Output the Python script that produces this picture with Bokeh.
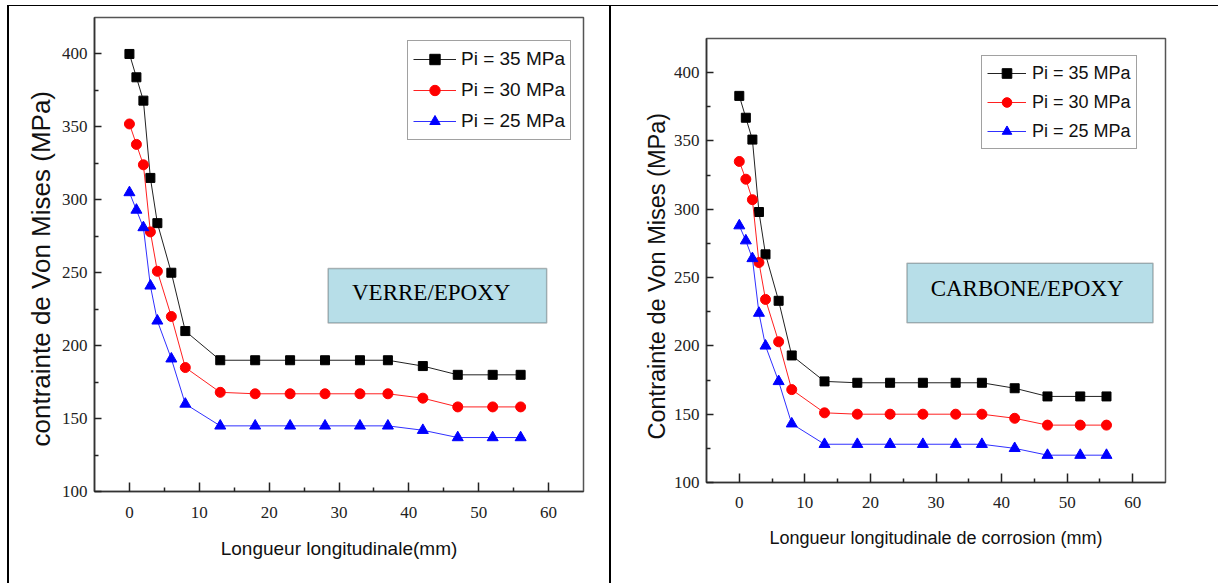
from bokeh.plotting import figure
from bokeh.layouts import row
from bokeh.models import (Range1d, Legend, LegendItem, BoxAnnotation, Label, FixedTicker, Title)
from bokeh.embed import file_html
from bokeh.resources import INLINE

# ---------------- data ----------------
length_mm = [0, 1, 2, 3, 4, 6, 8, 13, 18, 23, 28, 33, 37, 42, 47, 52, 56]

verre_pi35 = [400, 384, 368, 315, 284, 250, 210, 190, 190, 190, 190, 190, 190, 186, 180, 180, 180]
verre_pi30 = [352, 338, 324, 278, 251, 220, 185, 168, 167, 167, 167, 167, 167, 164, 158, 158, 158]
verre_pi25 = [305, 293, 281, 241, 217, 191, 160, 145, 145, 145, 145, 145, 145, 142, 137, 137, 137]

carbone_pi35 = [383, 367, 351, 298, 267, 233, 193, 174, 173, 173, 173, 173, 173, 169, 163, 163, 163]
carbone_pi30 = [335, 322, 307, 261, 234, 203, 168, 151, 150, 150, 150, 150, 150, 147, 142, 142, 142]
carbone_pi25 = [288, 277, 264, 224, 200, 174, 143, 128, 128, 128, 128, 128, 128, 125, 120, 120, 120]

series_labels = ["Pi = 35 MPa", "Pi = 30 MPa", "Pi = 25 MPa"]
x_ticks = [0, 10, 20, 30, 40, 50, 60]
x_minor = [5, 15, 25, 35, 45, 55]
y_ticks = [100, 150, 200, 250, 300, 350, 400]
y_minor = [125, 175, 225, 275, 325, 375]

TICK_FONT = "Liberation Sans Narrow"
SANS = "Liberation Sans"
SERIF = "Liberation Serif"
X0, X1, Y0, Y1 = -5, 65, 100, 425


def make_panel(values, ylab, xlab, material, size, frame, legend_cfg, box, text_pos,
               ylab_cfg, xlab_size, leg_font, tick_std_x, xlab_std, styles):
    left, right, top, bottom = frame
    w, h = size
    p = figure(width=w, height=h, output_backend="svg", toolbar_location=None,
               x_range=Range1d(X0, X1), y_range=Range1d(Y0, Y1),
               min_border_left=left, min_border_right=right,
               min_border_top=top, min_border_bottom=bottom)
    p.frame_align = False
    p.styles = styles
    p.background_fill_color = "white"
    p.border_fill_color = "white"
    p.xgrid.visible = False
    p.ygrid.visible = False
    p.outline_line_color = "#555555"
    p.outline_line_width = 1.5

    for ax in (p.xaxis[0], p.yaxis[0]):
        ax.axis_line_color = "#333333"
        ax.axis_line_width = 1.6
        ax.major_tick_line_color = "#222222"
        ax.minor_tick_line_color = "#222222"
        ax.major_tick_line_width = 1.5
        ax.minor_tick_line_width = 1.5
        ax.major_tick_out = 0
        ax.minor_tick_out = 0
        ax.major_label_text_font = TICK_FONT
        ax.major_label_text_font_size = "17px"
        ax.major_label_text_color = "#222222"
        ax.axis_label_text_font_style = "normal"
        ax.axis_label_text_color = "#111111"

    p.xaxis[0].ticker = FixedTicker(ticks=x_ticks, minor_ticks=x_minor)
    p.yaxis[0].ticker = FixedTicker(ticks=y_ticks, minor_ticks=y_minor)
    p.xaxis[0].major_tick_in = 9
    p.xaxis[0].minor_tick_in = 4
    p.yaxis[0].major_tick_in = 7
    p.yaxis[0].minor_tick_in = 4
    p.xaxis[0].major_label_standoff = tick_std_x
    p.yaxis[0].major_label_standoff = 7
    p.xaxis[0].axis_label = xlab
    p.xaxis[0].axis_label_text_font = SANS
    p.xaxis[0].axis_label_text_font_size = xlab_size
    p.xaxis[0].axis_label_standoff = xlab_std

    colors = ["black", "red", "blue"]
    line_colors = ["#222222", "#ff2020", "#3030ff"]
    markers = ["square", "circle", "triangle"]
    sizes = [9, 10, 11]
    items = []
    for vals, c, lc, m, s, lab in zip(values, colors, line_colors, markers, sizes, series_labels):
        lr = p.line(length_mm, vals, line_color=lc, line_width=1)
        sr = p.scatter(length_mm, vals, marker=m, size=s, fill_color=c, line_color=c)
        items.append(LegendItem(label=lab, renderers=[lr, sr]))

    loc, pad, gw, gh, sp, std = legend_cfg
    leg = Legend(items=items, location=loc, padding=pad, margin=0,
                 glyph_width=gw, glyph_height=gh, label_height=gh, spacing=sp,
                 label_standoff=std, label_text_font=SANS,
                 label_text_font_size=leg_font, label_text_color="#111111",
                 border_line_color="#444444", border_line_width=1.5,
                 background_fill_color="white", background_fill_alpha=1)
    p.add_layout(leg)

    bl, br, bt, bb = box
    p.add_layout(BoxAnnotation(left=bl, right=br, top=bt, bottom=bb,
                               fill_color="#b7dee8", fill_alpha=1,
                               line_color="#222222", line_width=1.5))
    tx, ty = text_pos
    p.add_layout(Label(x=tx, y=ty, text=material, text_font=SERIF,
                       text_font_size="23px", text_color="black",
                       text_align="center", text_baseline="middle"))

    lab_size, lab_offset, lab_standoff = ylab_cfg
    p.add_layout(Title(text=ylab, align="left", offset=lab_offset,
                       vertical_align="middle", standoff=lab_standoff,
                       text_font=SANS, text_font_size=lab_size,
                       text_font_style="normal", text_color="#111111"), "left")
    return p


p1 = make_panel(
    [verre_pi35, verre_pi30, verre_pi25],
    "contrainte de Von Mises (MPa)", "Longueur longitudinale(mm)", "VERRE/EPOXY",
    size=(602, 578),
    frame=(85, 28, 11, 93),
    legend_cfg=((313, 351), 5, 43, 26, 5, 5),
    box=(28.44, 59.73, 252.9, 215.5),
    text_pos=(43.2, 236.3),
    ylab_cfg=("26px", 45, 4), xlab_size="19px", leg_font="19px",
    tick_std_x=15, xlab_std=17,
    styles={"margin-left": "7px", "margin-top": "5px",
            "border-left": "2px solid black", "border-top": "1px solid black"})

p2 = make_panel(
    [carbone_pi35, carbone_pi30, carbone_pi25],
    "Contrainte de Von Mises (MPa)", "Longueur longitudinale de corrosion (mm)", "CARBONE/EPOXY",
    size=(609, 578),
    frame=(95, 55, 32, 102),
    legend_cfg=((275, 333), 5, 39, 24, 5, 6),
    box=(25.57, 63.1, 260.5, 216.9),
    text_pos=(43.9, 242),
    ylab_cfg=("23.5px", 43, 0), xlab_size="18px", leg_font="18px",
    tick_std_x=14, xlab_std=17,
    styles={"margin-top": "5px",
            "border-left": "2px solid black", "border-top": "1px solid black"})

layout = row(p1, p2, spacing=0)
open("out.html", "w").write(file_html(layout, INLINE))
